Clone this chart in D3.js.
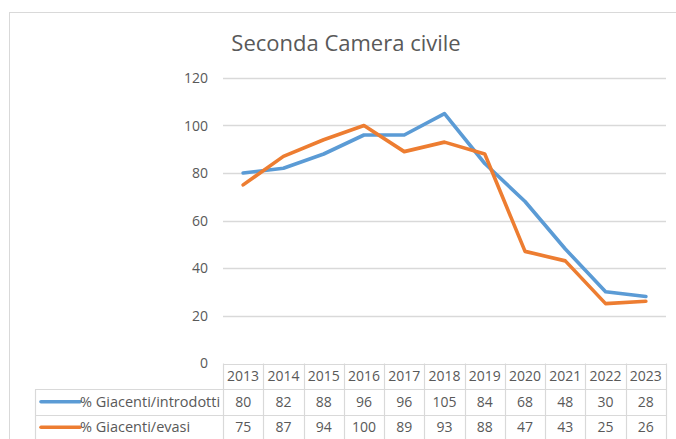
<!DOCTYPE html>
<html>
<head>
<meta charset="utf-8">
<script src="https://cdn.jsdelivr.net/npm/d3@7"></script>
<style>
  html, body { margin: 0; padding: 0; background: #fff; }
  svg { display: block; }
  text { font-family: "Open Sans", "Noto Sans", sans-serif; fill: #595959; }
</style>
</head>
<body>
<svg id="chart" width="676" height="439"></svg>
<script>
// Chart data
const title = "Seconda Camera civile";
const years = ["2013", "2014", "2015", "2016", "2017", "2018", "2019", "2020", "2021", "2022", "2023"];
const seriesNames = ["% Giacenti/introdotti", "% Giacenti/evasi"];
const introdotti = [80, 82, 88, 96, 96, 105, 84, 68, 48, 30, 28];
const evasi = [75, 87, 94, 100, 89, 93, 88, 47, 43, 25, 26];
const yTicks = [0, 20, 40, 60, 80, 100, 120];
const colors = ["#5B9BD5", "#ED7D31"];

const series = [
  { name: seriesNames[0], values: introdotti, color: colors[0] },
  { name: seriesNames[1], values: evasi, color: colors[1] }
];

const svg = d3.select("#chart");
const gridColor = "#D9D9D9";

// Plot area geometry
const plot = { left: 223, right: 666, top: 78, bottom: 363 };
const legendLeft = 35;
const rowH = 25.5;

// Outer chart frame (extends past the window on right and bottom)
svg.append("rect")
  .attr("x", 9.5).attr("y", 12.5)
  .attr("width", 700).attr("height", 460)
  .attr("fill", "none").attr("stroke", gridColor).attr("stroke-width", 1);

// Title
svg.append("text")
  .attr("x", 346).attr("y", 51)
  .attr("text-anchor", "middle")
  .style("font-size", "22px")
  .text(title);

// Scales
const x = d3.scaleBand().domain(years).range([plot.left, plot.right]);
const y = d3.scaleLinear().domain([0, 120]).range([plot.bottom, plot.top]);

// Horizontal gridlines
svg.append("g")
  .selectAll("line")
  .data(yTicks.filter(t => t > 0))
  .join("line")
  .attr("x1", plot.left).attr("x2", plot.right)
  .attr("y1", d => Math.round(y(d)) + 0.5).attr("y2", d => Math.round(y(d)) + 0.5)
  .attr("stroke", gridColor).attr("stroke-width", 1.5);

// Y axis labels
const yAxis = d3.axisLeft(y).tickValues(yTicks).tickSize(0).tickPadding(15);
const yg = svg.append("g").attr("transform", `translate(${plot.left},0)`).call(yAxis);
yg.select(".domain").remove();
yg.selectAll("text").style("font-size", "14px").attr("fill", "#595959").attr("dy", "0.35em");

// Lines
const line = d3.line()
  .x((d, i) => x(years[i]) + x.bandwidth() / 2)
  .y(d => y(d));

svg.append("g")
  .selectAll("path")
  .data(series)
  .join("path")
  .attr("d", d => line(d.values))
  .attr("fill", "none")
  .attr("stroke", d => d.color)
  .attr("stroke-width", 3.6)
  .attr("stroke-linejoin", "round")
  .attr("stroke-linecap", "round");

// Data table beneath the plot
const table = svg.append("g");
const tTop = plot.bottom + 0.5;
const r1 = tTop + rowH;
const r2 = r1 + rowH;
const r3 = r2 + rowH;

// horizontal table lines
const hLines = [
  { x1: plot.left, x2: plot.right, y: tTop },
  { x1: legendLeft, x2: plot.right, y: r1 },
  { x1: legendLeft, x2: plot.right, y: r2 },
  { x1: legendLeft, x2: plot.right, y: r3 }
];
table.selectAll("line.h")
  .data(hLines)
  .join("line")
  .attr("class", "h")
  .attr("x1", d => d.x1).attr("x2", d => d.x2)
  .attr("y1", d => Math.round(d.y) + 0.5).attr("y2", d => Math.round(d.y) + 0.5)
  .attr("stroke", gridColor).attr("stroke-width", 1.2);

// vertical table lines
const colEdges = years.map(yr => x(yr)).concat([plot.right]);
table.selectAll("line.v")
  .data(colEdges)
  .join("line")
  .attr("class", "v")
  .attr("x1", d => Math.round(d) + 0.5).attr("x2", d => Math.round(d) + 0.5)
  .attr("y1", tTop).attr("y2", r3)
  .attr("stroke", gridColor).attr("stroke-width", 1.2);
table.append("line")
  .attr("x1", legendLeft + 0.5).attr("x2", legendLeft + 0.5)
  .attr("y1", Math.round(r1) + 0.5).attr("y2", r3)
  .attr("stroke", gridColor).attr("stroke-width", 1.2);

// header: years
table.selectAll("text.yr")
  .data(years)
  .join("text")
  .attr("class", "yr")
  .attr("x", d => x(d) + x.bandwidth() / 2)
  .attr("y", tTop + rowH / 2)
  .attr("dy", "0.36em")
  .attr("text-anchor", "middle")
  .style("font-size", "14px")
  .text(d => d);

// series rows
const rows = table.selectAll("g.row")
  .data(series)
  .join("g")
  .attr("class", "row")
  .attr("transform", (d, i) => `translate(0,${r1 + i * rowH})`);

rows.append("line")
  .attr("x1", 41).attr("x2", 80)
  .attr("y1", rowH / 2).attr("y2", rowH / 2)
  .attr("stroke", d => d.color)
  .attr("stroke-width", 3.6)
  .attr("stroke-linecap", "round");

rows.append("text")
  .attr("x", 80)
  .attr("y", rowH / 2)
  .attr("dy", "0.36em")
  .style("font-size", "14.5px")
  .text(d => d.name);

rows.selectAll("text.val")
  .data(d => d.values)
  .join("text")
  .attr("class", "val")
  .attr("x", (v, i) => x(years[i]) + x.bandwidth() / 2)
  .attr("y", rowH / 2)
  .attr("dy", "0.36em")
  .attr("text-anchor", "middle")
  .style("font-size", "14px")
  .text(v => v);
</script>
</body>
</html>
